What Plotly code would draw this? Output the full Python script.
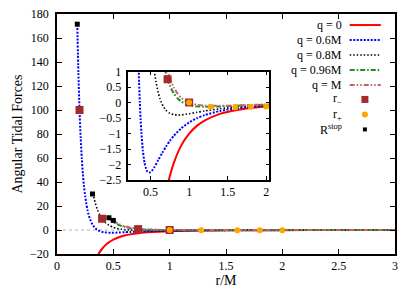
import plotly.graph_objects as go

# ---- data (r/M, angular tidal force) ----
r_q0 = [0.36, 0.38, 0.40, 0.43, 0.45, 0.50, 0.55, 0.60, 0.65, 0.70, 0.75, 0.80, 0.90, 1.0, 1.1, 1.2, 1.4, 1.6, 1.8, 2.0, 2.5, 3.0]
f_q0 = [-21.43, -18.22, -15.625, -12.58, -10.97, -8.0, -6.01, -4.63, -3.64, -2.915, -2.370, -1.953, -1.372, -1.0, -0.751, -0.579, -0.364, -0.244, -0.1715, -0.125, -0.064, -0.037]

r_q06 = [0.18, 0.19, 0.20, 0.21, 0.22, 0.23, 0.24, 0.25, 0.26, 0.27, 0.28, 0.29, 0.30, 0.31, 0.32, 0.33, 0.34, 0.35, 0.36, 0.37, 0.38, 0.40, 0.42, 0.44, 0.46, 0.48, 0.50, 0.52, 0.55, 0.60, 0.65, 0.70, 0.75, 0.80, 0.90, 1.0, 1.1, 1.2, 1.4, 1.6, 1.8, 2.0, 2.5, 3.0]
f_q06 = [171.5, 130.4, 100.0, 77.1, 59.8, 46.5, 36.2, 28.2, 21.9, 16.9, 13.0, 9.9, 7.41, 5.41, 3.81, 2.53, 1.50, 0.666, 0.0, -0.534, -0.959, -1.5625, -1.928, -2.134, -2.233, -2.261, -2.24, -2.188, -2.076, -1.852, -1.625, -1.416, -1.2326, -1.074, -0.823, -0.64, -0.505, -0.405, -0.271, -0.189, -0.137, -0.1025, -0.0548, -0.0326]

r_q08 = [0.32, 0.33, 0.34, 0.36, 0.38, 0.40, 0.43, 0.46, 0.50, 0.53, 0.55, 0.57, 0.60, 0.62, 0.64, 0.67, 0.70, 0.75, 0.80, 0.85, 0.90, 1.0, 1.1, 1.2, 1.4, 1.6, 1.8, 2.0, 2.5, 3.0]
f_q08 = [30.5, 26.14, 22.45, 16.67, 12.47, 9.375, 6.14, 4.02, 2.24, 1.394, 0.984, 0.663, 0.309, 0.135, 0.0, -0.149, -0.250, -0.348, -0.391, -0.402, -0.396, -0.36, -0.314, -0.270, -0.198, -0.1465, -0.1105, -0.085, -0.0476, -0.0291]

r_q096 = [0.4608, 0.48, 0.50, 0.52, 0.55, 0.60, 0.65, 0.70, 0.72, 0.75, 0.80, 0.85, 0.90, 0.95, 1.0, 1.1, 1.2, 1.28, 1.4, 1.6, 1.8, 2.0, 2.5, 3.0]
f_q096 = [10.22, 8.319, 6.746, 5.493, 4.061, 2.481, 1.522, 0.923, 0.750, 0.542, 0.297, 0.137, 0.0329, -0.0349, -0.0784, -0.1218, -0.1343, -0.1335, -0.1245, -0.1035, -0.0837, -0.0674, -0.0404, -0.0257]

r_q1 = [0.50, 0.52, 0.55, 0.60, 0.65, 0.70, 0.75, 0.80, 0.85, 0.90, 0.95, 1.0, 1.1, 1.2, 1.33, 1.4, 1.6, 1.8, 2.0, 2.5, 3.0]
f_q1 = [8.0, 6.565, 4.918, 3.086, 1.961, 1.249, 0.790, 0.488, 0.287, 0.152, 0.0614, 0.0, -0.0683, -0.0965, -0.1055, -0.1041, -0.0916, -0.0762, -0.0625, -0.0384, -0.0247]

r_minus = [0.2, 0.4, 0.72, 1.0]
f_minus = [100.0, 9.375, 0.75, 0.0]
r_plus = [2.0, 1.8, 1.6, 1.28, 1.0]
f_plus = [-0.125, -0.137, -0.1465, -0.1335, 0.0]
r_stop = [0.18, 0.315, 0.4608, 0.5]
f_stop = [171.5, 30.0, 10.22, 8.0]

labels = ["q = 0", "q = 0.6M", "q = 0.8M", "q = 0.96M", "q = M"]
x_ticks = [0, 0.5, 1, 1.5, 2, 2.5, 3]
inset_x_ticks = [0.5, 1, 1.5, 2]

FONT = "Liberation Serif"
styles = [
    dict(color="#ff0000", width=2, dash="solid"),
    dict(color="#0000ff", width=2, dash="2px,1.5px"),
    dict(color="#000000", width=1.6, dash="1.5px,2px"),
    dict(color="#228b22", width=2, dash="5px,2px,1.5px,2px"),
    dict(color="#c06464", width=2, dash="5px,2px,1.5px,2px,1.5px,2px"),
]
series = [(r_q0, f_q0), (r_q06, f_q06), (r_q08, f_q08), (r_q096, f_q096), (r_q1, f_q1)]

fig = go.Figure()
for ax in [("x", "y"), ("x2", "y2")]:
    for (rr, ff), st, lab in zip(series, styles, labels):
        fig.add_trace(go.Scatter(x=rr, y=ff, mode="lines", name=lab, line=dict(shape="spline", smoothing=0.6, **st),
                                 xaxis=ax[0], yaxis=ax[1], showlegend=False))
    fig.add_trace(go.Scatter(x=r_minus, y=f_minus, mode="markers", marker=dict(symbol="square", size=8, color="#a52a2a"),
                             xaxis=ax[0], yaxis=ax[1], showlegend=False))
    fig.add_trace(go.Scatter(x=r_plus, y=f_plus, mode="markers", marker=dict(symbol="circle", size=6, color="#ffa500"),
                             xaxis=ax[0], yaxis=ax[1], showlegend=False))
    fig.add_trace(go.Scatter(x=r_stop, y=f_stop, mode="markers", marker=dict(symbol="square", size=5, color="#000000"),
                             xaxis=ax[0], yaxis=ax[1], showlegend=False))

shapes = [
    dict(type="line", xref="x domain", yref="y", x0=0, x1=1, y0=0, y1=0, layer="below",
         line=dict(color="#b0b0b0", width=1, dash="dot")),
    dict(type="line", xref="x2 domain", yref="y2", x0=0, x1=1, y0=0, y1=0, layer="below",
         line=dict(color="#b0b0b0", width=1, dash="dot")),
]
annotations = []
# manual gnuplot-style legend (text right, sample left)
row_y = [0.954, 0.8917, 0.829, 0.7667, 0.704, 0.644, 0.581, 0.519]
tx = 0.848
for lab, st, yy in zip(labels, styles, row_y[:5]):
    annotations.append(dict(xref="paper", yref="paper", x=tx, y=yy, text=lab, showarrow=False, xanchor="right",
                            yanchor="middle", font=dict(family=FONT, size=12, color="black")))
    shapes.append(dict(type="line", xref="paper", yref="paper", x0=0.866, x1=0.958, y0=yy, y1=yy, line=st))
mk = [("r<sub>−</sub>", "rect", 7, "#a52a2a"), ("r<sub>+</sub>", "circle", 6, "#ffa500"), ("R<sup>stop</sup>", "rect", 4, "#000000")]
for (lab, typ, sz, col), yy in zip(mk, row_y[5:]):
    annotations.append(dict(xref="paper", yref="paper", x=tx, y=yy, text=lab, showarrow=False, xanchor="right",
                            yanchor="middle", font=dict(family=FONT, size=12, color="black")))
    shapes.append(dict(type=typ, xref="paper", yref="paper", xsizemode="pixel", ysizemode="pixel",
                       xanchor=0.911, yanchor=yy, x0=-sz / 2, x1=sz / 2, y0=-sz / 2, y1=sz / 2,
                       fillcolor=col, line=dict(width=0)))

axis_common = dict(showline=True, linecolor="black", linewidth=1.5, mirror="allticks", ticks="inside",
                   showgrid=False, zeroline=False, tickcolor="black", automargin=False, ticklabeloverflow="allow",
                   tickfont=dict(family=FONT, size=12, color="black"))

# page body adds an 8px offset; figure is sized so the plot lands where the reference has it
fig.update_layout(
    width=407, height=283,
    margin=dict(l=49, r=20, t=6, b=37, autoexpand=False),
    paper_bgcolor="white", plot_bgcolor="white",
    font=dict(family=FONT, size=12, color="black"),
    xaxis=dict(range=[0, 3], tickvals=x_ticks, ticklen=5, domain=[0, 1],
               title=dict(text="r/M", font=dict(family=FONT, size=14), standoff=2), **axis_common),
    yaxis=dict(range=[-20, 180], dtick=20, ticklen=5, domain=[0, 1], ticklabelstandoff=4,
               title=dict(text="Angular Tidal Forces", font=dict(family=FONT, size=14), standoff=4), **axis_common),
    xaxis2=dict(range=[0.2, 2.04], tickvals=inset_x_ticks, ticklen=4, anchor="y2", domain=[0.2086, 0.628], **axis_common),
    yaxis2=dict(range=[-2.5, 1], dtick=0.5, ticklen=4, anchor="x2", domain=[0.308, 0.760], ticklabelstandoff=2, **axis_common),
    shapes=shapes, annotations=annotations, showlegend=False,
)
fig.write_html("out.html")
